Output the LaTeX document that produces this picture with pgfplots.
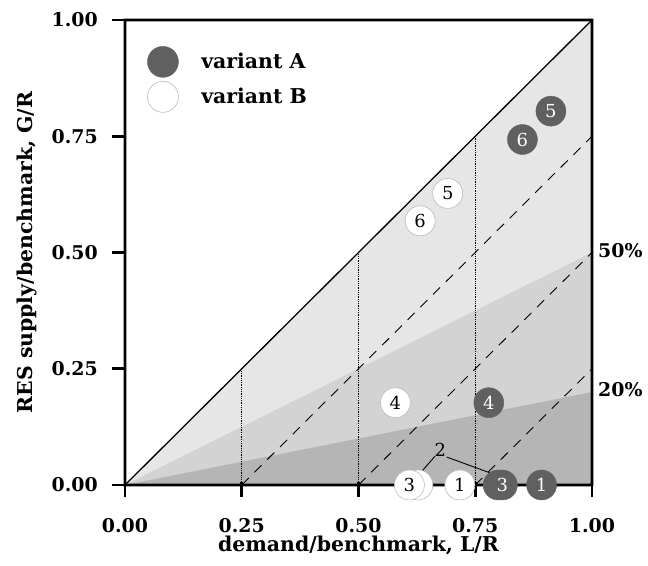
\documentclass[border=0pt]{standalone}
\usepackage{fontspec}
\setmainfont{DejaVu Serif}
\usepackage{pgfplots}
\pgfplotsset{compat=1.18}
\definecolor{darkc}{HTML}{606060}
\definecolor{edgeb}{HTML}{BBBBBB}
\definecolor{shadeA}{HTML}{E6E6E6}
\definecolor{shadeB}{HTML}{D3D3D3}
\definecolor{shadeC}{HTML}{B5B5B5}
\newcommand{\tickf}{\fontsize{19}{22}\selectfont}
\newcommand{\labf}{\fontsize{20.5}{24}\selectfont}
\newcommand{\numf}{\fontsize{18}{21}\selectfont}

\begin{document}
\begin{tikzpicture}
\begin{axis}[
 scale only axis,width=467bp,height=465bp,
 xmin=0,xmax=1,ymin=0,ymax=1,
 xtick={0,0.25,0.5,0.75,1},ytick={0,0.25,0.5,0.75,1},
 xticklabels={0.00,0.25,0.50,0.75,1.00},
 yticklabels={0.00,0.25,0.50,0.75,1.00},
 major tick length=0pt,
 axis line style={black,line width=2.6bp},
 xticklabel style={font=\bfseries\tickf,anchor=north,inner sep=0pt,yshift=-33bp},
 yticklabel style={font=\bfseries\tickf,anchor=east,inner sep=0pt,xshift=-27bp},
 label style={font=\bfseries\labf,inner sep=0pt},
 xlabel={demand/benchmark, L/R},
 ylabel={RES supply/benchmark, G/R},
 xlabel style={at={(axis description cs:0.5,-0.11)},anchor=north},
 ylabel style={at={(axis description cs:-0.1884,0.5)},anchor=south},
 clip=false,
 legend style={at={(0.041,0.948)},anchor=north west,draw=none,fill=none,
   font=\bfseries\labf,row sep=4bp},
 legend cell align=left,
 legend image code/.code={\draw[#1] plot coordinates {(15.6bp,0bp)}; \path[draw=none,fill=none] (0bp,-1bp) rectangle (52bp,1bp);},
]
% shaded areas
\addplot[fill=shadeA,draw=none,forget plot] coordinates {(0,0) (1,1) (1,0) (0,0)};
\addplot[fill=shadeB,draw=none,forget plot] coordinates {(0,0) (1,0.5) (1,0) (0,0)};
\addplot[fill=shadeC,draw=none,forget plot] coordinates {(0,0) (1,0.2) (1,0) (0,0)};
\addplot[black,line width=1.3bp,forget plot] coordinates {(0,0) (1,1)};
% dashed lines
\addplot[black,line width=0.9bp,dash pattern=on 10bp off 8bp,forget plot] coordinates {(0.25,0) (1,0.75)};
\addplot[black,line width=0.9bp,dash pattern=on 10bp off 8bp,forget plot] coordinates {(0.5,0) (1,0.5)};
\addplot[black,line width=0.9bp,dash pattern=on 10bp off 8bp,forget plot] coordinates {(0.75,0) (1,0.25)};
% dotted verticals
\addplot[black,line width=0.8bp,densely dotted,forget plot] coordinates {(0.25,0) (0.25,0.25)};
\addplot[black,line width=0.8bp,densely dotted,forget plot] coordinates {(0.5,0) (0.5,0.5)};
\addplot[black,line width=0.8bp,densely dotted,forget plot] coordinates {(0.75,0) (0.75,0.75)};
% frame (filled bands, 2.6bp thick)
\fill[black,even odd rule] (rel axis cs:0,0) ++(-1.3bp,-1.3bp) rectangle ++(469.6bp,467.6bp)
  (rel axis cs:0,0) ++(1.3bp,1.3bp) rectangle ++(464.4bp,462.4bp);
\fill[black] (rel axis cs:0,0) ++(-1.3bp,-1.3bp) rectangle ++(469.6bp,2.6bp);
% x ticks
\fill[black] (rel axis cs:0,0) ++(-1.3bp,3bp) rectangle ++(2.6bp,-15bp);
\fill[black] (rel axis cs:0.25,0) ++(-1.3bp,3bp) rectangle ++(2.6bp,-15bp);
\fill[black] (rel axis cs:0.5,0) ++(-1.3bp,3bp) rectangle ++(2.6bp,-15bp);
\fill[black] (rel axis cs:0.75,0) ++(-1.3bp,3bp) rectangle ++(2.6bp,-15bp);
\fill[black] (rel axis cs:1,0) ++(-1.3bp,3bp) rectangle ++(2.6bp,-15bp);
% y ticks
\fill[black] (rel axis cs:0,0) ++(0,1.3bp) rectangle ++(-13bp,-2.6bp);
\fill[black] (rel axis cs:0,0.25) ++(0,1.3bp) rectangle ++(-13bp,-2.6bp);
\fill[black] (rel axis cs:0,0.5) ++(0,1.3bp) rectangle ++(-13bp,-2.6bp);
\fill[black] (rel axis cs:0,0.75) ++(0,1.3bp) rectangle ++(-13bp,-2.6bp);
\fill[black] (rel axis cs:0,1) ++(0,1.3bp) rectangle ++(-13bp,-2.6bp);
% leader lines for point 2
\addplot[black,line width=0.9bp,forget plot] coordinates {(0.664,0.062) (0.637,0.031)};
\addplot[black,line width=0.9bp,forget plot] coordinates {(0.689,0.060) (0.782,0.026)};
\node[font=\numf] at (axis cs:0.675,0.076) {2};

\addlegendimage{only marks,mark=*,mark size=15.5bp,mark options={fill=darkc,draw=darkc}}
\addlegendentry{variant A}
\addlegendimage{only marks,mark=*,mark size=15.5bp,mark options={fill=white,draw=edgeb,line width=0.6bp}}
\addlegendentry{variant B}

% variant B
\addplot[only marks,mark=*,mark size=15bp,mark options={fill=white,draw=edgeb,line width=0.6bp},forget plot]
 coordinates {(0.627,0)};
\addplot[only marks,mark=*,mark size=15bp,mark options={fill=white,draw=edgeb,line width=0.6bp},forget plot,
 point meta=explicit symbolic,nodes near coords,
 every node near coord/.append style={anchor=center,yshift=0pt,text=black,font=\numf}]
 coordinates {(0.609,0) [3] (0.717,0) [1] (0.579,0.177) [4] (0.691,0.627) [5] (0.632,0.568) [6]};
% variant A
\addplot[only marks,mark=*,mark size=15bp,mark options={fill=darkc,draw=darkc},forget plot]
 coordinates {(0.799,0)};
\addplot[only marks,mark=*,mark size=15bp,mark options={fill=darkc,draw=darkc},forget plot,
 point meta=explicit symbolic,nodes near coords,
 every node near coord/.append style={anchor=center,yshift=0pt,text=white,font=\numf}]
 coordinates {(0.808,0) [3] (0.892,0) [1] (0.779,0.177) [4] (0.912,0.804) [5] (0.851,0.743) [6]};

\node[anchor=west,inner sep=0pt,xshift=6bp,yshift=2bp,font=\bfseries\tickf] at (axis cs:1,0.5) {50\%};
\node[anchor=west,inner sep=0pt,xshift=6bp,yshift=2bp,font=\bfseries\tickf] at (axis cs:1,0.2) {20\%};
\coordinate (bbsw) at (axis cs:-0.2677,-0.1742);
\coordinate (bbne) at (axis cs:1.1199,1.0430);
\end{axis}
\pgfresetboundingbox
\path (bbsw) rectangle (bbne);
\end{tikzpicture}
\end{document}
